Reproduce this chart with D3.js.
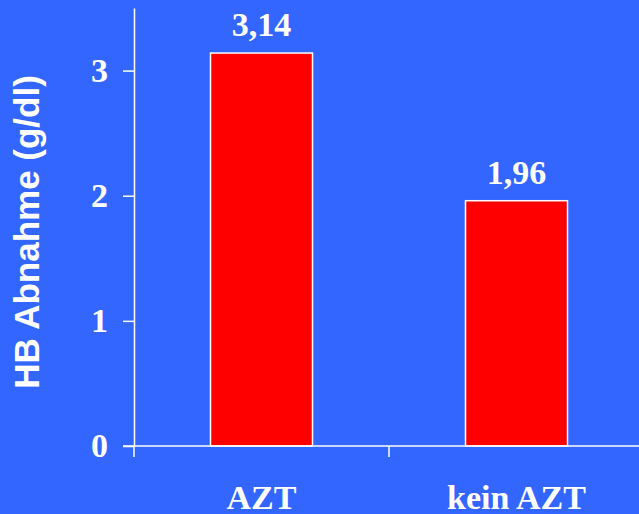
<!DOCTYPE html>
<html>
<head>
<meta charset="utf-8">
<script src="https://cdn.jsdelivr.net/npm/d3@7"></script>
<style>
  html, body { margin: 0; padding: 0; background: #3366FF; }
  svg { display: block; }
</style>
</head>
<body>
<svg id="chart" width="639" height="514"></svg>
<script>
// Hemoglobin decrease by treatment group
const categories = ["AZT", "kein AZT"];
const values = [3.14, 1.96];
const valueLabels = ["3,14", "1,96"];
const yTicks = [0, 1, 2, 3];
const yTitle = "HB Abnahme (g/dl)";

const W = 639, H = 514;
const x0 = 134, y0 = 446;
const svg = d3.select("#chart");
const serif = "'Liberation Serif', 'Times New Roman', serif";
const sans = "'Liberation Sans', Arial, sans-serif";

svg.append("rect").attr("width", W).attr("height", H).attr("fill", "#3366FF");

const x = d3.scaleBand().domain(categories).range([x0, x0 + 510]).padding(0);
const y = d3.scaleLinear().domain([0, 3.5]).range([y0, 8]);

// Bars
const barW = x.bandwidth() * 0.4;
svg.selectAll("rect.bar")
  .data(values)
  .join("rect")
  .attr("class", "bar")
  .attr("x", (d, i) => x(categories[i]) + (x.bandwidth() - barW) / 2)
  .attr("y", d => y(d))
  .attr("width", barW)
  .attr("height", d => y0 - y(d))
  .attr("fill", "#FF0000")
  .attr("stroke", "#FFFFFF")
  .attr("stroke-width", 1.5);

// Y axis
const yAxis = svg.append("g")
  .attr("transform", `translate(${x0},0)`)
  .call(d3.axisLeft(y).tickValues(yTicks).tickFormat(d3.format("d"))
    .tickSize(11).tickSizeOuter(0).tickPadding(15));
yAxis.selectAll("path, line").attr("stroke", "#FFFFFF").attr("stroke-width", 1.5);
yAxis.selectAll("text")
  .attr("fill", "#FFFFFF")
  .attr("font-family", serif)
  .attr("font-weight", "bold")
  .attr("font-size", 34);

// X axis baseline with ticks at the group boundaries
const xg = svg.append("g");
xg.append("line")
  .attr("x1", x0 - 11).attr("x2", W)
  .attr("y1", y0).attr("y2", y0)
  .attr("stroke", "#FFFFFF").attr("stroke-width", 1.5);
xg.selectAll("line.tick")
  .data(categories)
  .join("line")
  .attr("class", "tick")
  .attr("x1", d => x(d)).attr("x2", d => x(d))
  .attr("y1", y0).attr("y2", y0 + 11)
  .attr("stroke", "#FFFFFF").attr("stroke-width", 1.5);

// Category labels
svg.selectAll("text.cat")
  .data(categories)
  .join("text")
  .attr("class", "cat")
  .attr("x", d => x(d) + x.bandwidth() / 2)
  .attr("y", y0 + 63)
  .attr("text-anchor", "middle")
  .attr("fill", "#FFFFFF")
  .attr("font-family", serif)
  .attr("font-weight", "bold")
  .attr("font-size", 34)
  .text(d => d);

// Value labels above bars
svg.selectAll("text.val")
  .data(values)
  .join("text")
  .attr("class", "val")
  .attr("x", (d, i) => x(categories[i]) + x.bandwidth() / 2)
  .attr("y", d => y(d) - 17)
  .attr("text-anchor", "middle")
  .attr("fill", "#FFFFFF")
  .attr("font-family", serif)
  .attr("font-weight", "bold")
  .attr("font-size", 34)
  .text((d, i) => valueLabels[i]);

// Y axis title
svg.append("text")
  .attr("transform", "translate(39,232) rotate(-90)")
  .attr("text-anchor", "middle")
  .attr("fill", "#FFFFFF")
  .attr("font-family", sans)
  .attr("font-weight", "bold")
  .attr("font-size", 35)
  .text(yTitle);
</script>
</body>
</html>
